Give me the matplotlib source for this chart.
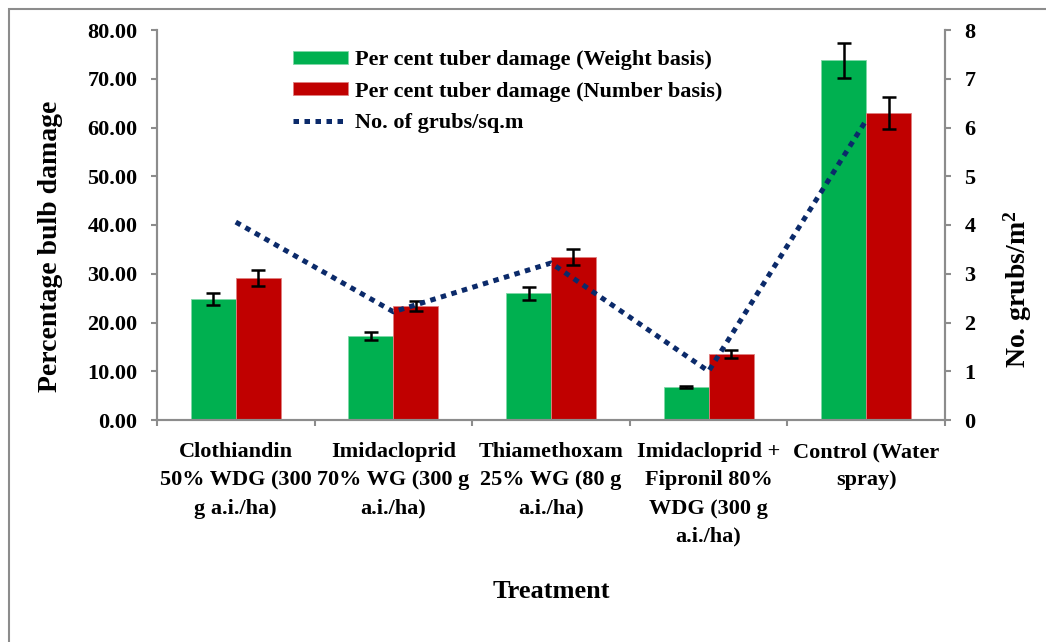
import matplotlib.pyplot as plt
import matplotlib.patches as mpatches
import numpy as np

# data
treatments = ['Clothiandin\n50% WDG (300\ng a.i./ha)',
              'Imidacloprid\n70% WG (300 g\na.i./ha)',
              'Thiamethoxam\n25% WG (80 g\na.i./ha)',
              'Imidacloprid +\nFipronil 80%\nWDG (300 g\na.i./ha)',
              'Control (Water\nspray)']
weight_damage = [24.8, 17.2, 26.0, 6.7, 73.8]
weight_err = [1.3, 0.8, 1.3, 0.2, 3.6]
number_damage = [29.1, 23.4, 33.4, 13.6, 62.9]
number_err = [1.6, 1.1, 1.7, 0.8, 3.3]
grubs = [4.06, 2.22, 3.22, 1.0, 6.15]

GREEN = '#00B050'
RED = '#C00000'
NAVY = '#0B2A6A'
GREY = '#8C8C8C'

plt.rcParams['font.family'] = ['Liberation Serif', 'DejaVu Serif']
plt.rcParams['font.weight'] = 'bold'
plt.rcParams['axes.labelweight'] = 'bold'
plt.rcParams['mathtext.fontset'] = 'custom'
plt.rcParams['mathtext.bf'] = 'Liberation Serif:bold'
plt.rcParams['mathtext.rm'] = 'Liberation Serif:bold'
plt.rcParams['mathtext.default'] = 'bf'

fig = plt.figure(figsize=(10.46, 6.42), dpi=100)
ax = fig.add_axes([157/1046, 1-420/642, (945-157)/1046, 390/642])
ax2 = ax.twinx()

# outer chart border
fig.patches.append(mpatches.Rectangle((9/1046, -0.1), 1.2, 1-9/642+0.1,
                                      transform=fig.transFigure, fill=False,
                                      edgecolor=GREY, linewidth=1.5))

x = np.arange(len(treatments))
w = 0.285
ax.bar(x - w/2, weight_damage, w, color=GREEN, edgecolor='#7fd8a7', linewidth=0.6,
       label='Per cent tuber damage (Weight basis)', zorder=2)
ax.bar(x + w/2, number_damage, w, color=RED, edgecolor='#e08080', linewidth=0.6,
       label='Per cent tuber damage (Number basis)', zorder=2)
ax.errorbar(x - w/2, weight_damage, yerr=weight_err, fmt='none', ecolor='black',
            elinewidth=1.8, capsize=5, capthick=1.8, zorder=3)
ax.errorbar(x + w/2, number_damage, yerr=number_err, fmt='none', ecolor='black',
            elinewidth=1.8, capsize=5, capthick=1.8, zorder=3)

line, = ax2.plot(x, grubs, color=NAVY, linewidth=3.6, linestyle=(0, (1.1, 1.1)),
                 dash_capstyle='butt', label='No. of grubs/sq.m', zorder=4)

ax.set_xlim(-0.5, len(treatments) - 0.5)
ax.set_ylim(0, 80)
ax2.set_ylim(0, 8)
ax.set_yticks(np.arange(0, 81, 10))
ax.set_yticklabels(['%.2f' % v for v in np.arange(0, 81, 10)])
ax2.set_yticks(range(0, 9))

ax.set_xticks(np.arange(-0.5, len(treatments), 1))
ax.set_xticklabels([])
ax.set_xticks(x, minor=True)
ax.set_xticklabels(treatments, minor=True, fontsize=16, linespacing=1.55)
ax.tick_params(axis='x', which='minor', length=0, pad=16)
ax.tick_params(axis='x', which='major', length=4, color=GREY, width=1.5)
ax.tick_params(axis='y', length=4, color=GREY, width=1.5, labelsize=16, pad=10)
ax2.tick_params(axis='y', length=4, color=GREY, width=1.5, labelsize=16, pad=10)

for a in (ax, ax2):
    a.spines['top'].set_visible(False)
    for s in ('left', 'right', 'bottom'):
        a.spines[s].set_color(GREY)
        a.spines[s].set_linewidth(1.5)
ax2.set_zorder(ax.get_zorder() + 1)
ax2.patch.set_visible(False)

ax.set_ylabel('Percentage bulb damage', fontsize=20)
ax.yaxis.set_label_coords(-0.119, 0.445)
ax2.set_ylabel('No. grubs/m$^{2}$', fontsize=20)
ax2.yaxis.set_label_coords(1.072, 0.335)
ax.set_xlabel('Treatment', fontsize=19, labelpad=24)

h1, l1 = ax.get_legend_handles_labels()
ax2.legend(h1 + [line], l1 + [line.get_label()], loc='upper left',
           bbox_to_anchor=(0.158, 0.976), frameon=False, fontsize=16,
           handlelength=2.5, handleheight=0.5, handletextpad=0.3,
           labelspacing=0.5, borderpad=0)

fig.savefig('out.png', dpi=100)
